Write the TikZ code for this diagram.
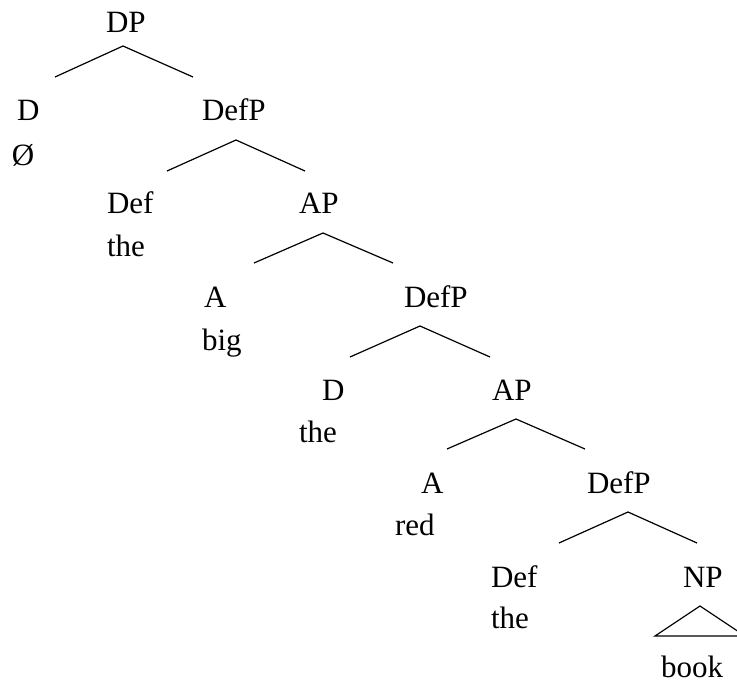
\documentclass[tikz,border=0pt]{standalone}
\usepackage{fontspec}
\setmainfont{Liberation Serif}
\begin{document}
\begin{tikzpicture}[x=1pt,y=-1pt,
  lbl/.style={anchor=base west,inner sep=0pt,outer sep=0pt,font=\fontsize{31}{31}\selectfont},
  branch/.style={line width=1.2pt,line join=miter}]
\clip (0,0) rectangle (737,683);
\fill[white] (0,0) rectangle (737,683);
% labels
\node[lbl] (dp)    at (106,32)  {DP};
\node[lbl] (d1)    at (17,120)  {D};
\node[lbl] (null)  at (12,165)  {Ø};
\node[lbl] (defp1) at (202,120) {DefP};
\node[lbl] (def1)  at (107,213) {Def};
\node[lbl] (the1)  at (107,256) {the};
\node[lbl] (ap1)   at (299,213) {AP};
\node[lbl] (a1)    at (204,307) {A};
\node[lbl] (big)   at (202,350) {big};
\node[lbl] (defp2) at (404,307) {DefP};
\node[lbl] (d2)    at (322,400) {D};
\node[lbl] (the2)  at (299,442) {the};
\node[lbl] (ap2)   at (492,400) {AP};
\node[lbl] (a2)    at (421,493) {A};
\node[lbl] (red)   at (395,535) {red};
\node[lbl] (defp3) at (587,493) {DefP};
\node[lbl] (def3)  at (491,587) {Def};
\node[lbl] (the3)  at (491,628) {the};
\node[lbl] (np)    at (683,587) {NP};
\node[lbl] (book)  at (661,677) {book};
% branch points
\coordinate (t1) at (123,46);  \coordinate (l1) at (55,77);   \coordinate (r1) at (193,77);
\coordinate (t2) at (236,140); \coordinate (l2) at (167,171); \coordinate (r2) at (305,171);
\coordinate (t3) at (323,233); \coordinate (l3) at (254,263); \coordinate (r3) at (393,263);
\coordinate (t4) at (420,326); \coordinate (l4) at (350,357); \coordinate (r4) at (490,357);
\coordinate (t5) at (516,419); \coordinate (l5) at (447,449); \coordinate (r5) at (585,449);
\coordinate (t6) at (628,512); \coordinate (l6) at (559,543); \coordinate (r6) at (697,543);
\coordinate (t7) at (700,606); \coordinate (l7) at (655,636); \coordinate (r7) at (745,636);
\draw[branch] (l1) -- (t1) -- (r1);
\draw[branch] (l2) -- (t2) -- (r2);
\draw[branch] (l3) -- (t3) -- (r3);
\draw[branch] (l4) -- (t4) -- (r4);
\draw[branch] (l5) -- (t5) -- (r5);
\draw[branch] (l6) -- (t6) -- (r6);
\draw[branch] (l7) -- (t7) -- (r7) -- cycle;
\end{tikzpicture}
\end{document}
